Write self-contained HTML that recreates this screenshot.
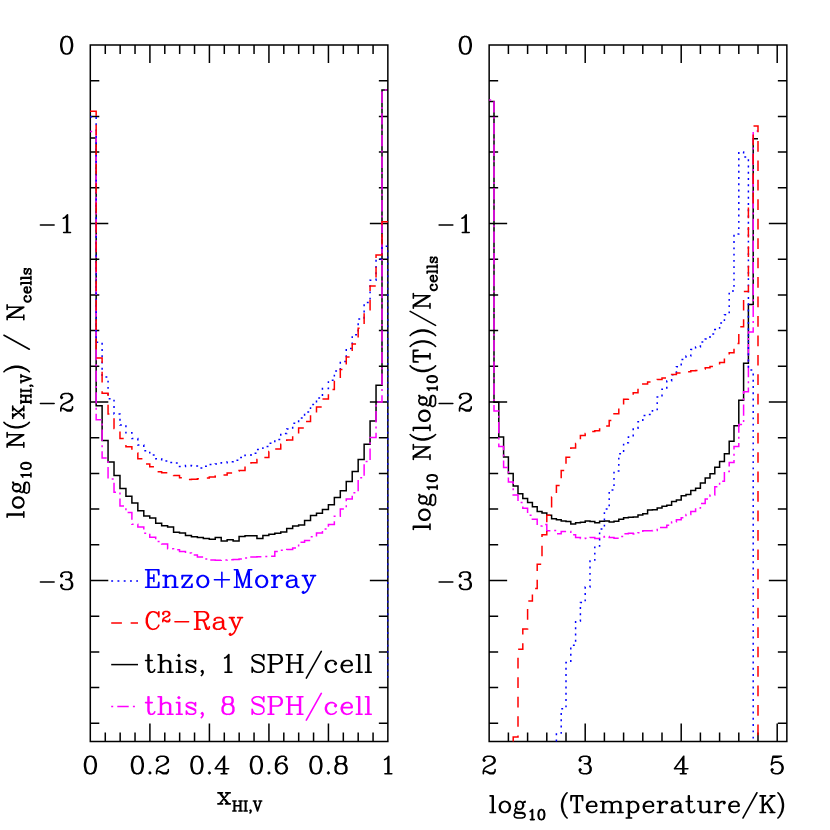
<!DOCTYPE html>
<html><head><meta charset="utf-8"><title>chart</title><style>html,body{margin:0;padding:0;background:#fff}svg{display:block}</style></head><body>
<svg width="830" height="830" viewBox="0 0 830 830">
<rect width="830" height="830" fill="#fff"/>
<defs><clipPath id="c1"><rect x="89.55" y="44.25" width="299.05" height="698"/></clipPath><clipPath id="c2"><rect x="488.4" y="44.25" width="299.2" height="698"/></clipPath></defs>
<path d="M90.3 45H387.85V741.5H90.3ZM105.28 45v9M105.28 741.5v-9M120.16 45v9M120.16 741.5v-9M135.03 45v9M135.03 741.5v-9M164.79 45v9M164.79 741.5v-9M179.66 45v9M179.66 741.5v-9M194.54 45v9M194.54 741.5v-9M224.3 45v9M224.3 741.5v-9M239.17 45v9M239.17 741.5v-9M254.05 45v9M254.05 741.5v-9M283.81 45v9M283.81 741.5v-9M298.68 45v9M298.68 741.5v-9M313.56 45v9M313.56 741.5v-9M343.32 45v9M343.32 741.5v-9M358.19 45v9M358.19 741.5v-9M373.07 45v9M373.07 741.5v-9M149.91 45v18M149.91 741.5v-18M209.42 45v18M209.42 741.5v-18M268.93 45v18M268.93 741.5v-18M328.44 45v18M328.44 741.5v-18M90.3 80.7h9M387.85 80.7h-9M90.3 116.4h9M387.85 116.4h-9M90.3 152.1h9M387.85 152.1h-9M90.3 187.8h9M387.85 187.8h-9M90.3 223.5h18M387.85 223.5h-18M90.3 259.2h9M387.85 259.2h-9M90.3 294.9h9M387.85 294.9h-9M90.3 330.6h9M387.85 330.6h-9M90.3 366.3h9M387.85 366.3h-9M90.3 402h18M387.85 402h-18M90.3 437.7h9M387.85 437.7h-9M90.3 473.4h9M387.85 473.4h-9M90.3 509.1h9M387.85 509.1h-9M90.3 544.8h9M387.85 544.8h-9M90.3 580.5h18M387.85 580.5h-18M90.3 616.2h9M387.85 616.2h-9M90.3 651.9h9M387.85 651.9h-9M90.3 687.6h9M387.85 687.6h-9M90.3 723.3h9M387.85 723.3h-9" fill="none" stroke="#000" stroke-width="1.5" stroke-linecap="butt" stroke-linejoin="miter"/>
<path d="M489.15 45H786.85V741.5H489.15ZM508.4 45v9M508.4 741.5v-9M527.6 45v9M527.6 741.5v-9M546.8 45v9M546.8 741.5v-9M566 45v9M566 741.5v-9M604.4 45v9M604.4 741.5v-9M623.6 45v9M623.6 741.5v-9M642.8 45v9M642.8 741.5v-9M662 45v9M662 741.5v-9M700.4 45v9M700.4 741.5v-9M719.6 45v9M719.6 741.5v-9M738.8 45v9M738.8 741.5v-9M758 45v9M758 741.5v-9M585.2 45v18M585.2 741.5v-18M681.2 45v18M681.2 741.5v-18M777.2 45v18M777.2 741.5v-18M489.15 80.7h9M786.85 80.7h-9M489.15 116.4h9M786.85 116.4h-9M489.15 152.1h9M786.85 152.1h-9M489.15 187.8h9M786.85 187.8h-9M489.15 223.5h18M786.85 223.5h-18M489.15 259.2h9M786.85 259.2h-9M489.15 294.9h9M786.85 294.9h-9M489.15 330.6h9M786.85 330.6h-9M489.15 366.3h9M786.85 366.3h-9M489.15 402h18M786.85 402h-18M489.15 437.7h9M786.85 437.7h-9M489.15 473.4h9M786.85 473.4h-9M489.15 509.1h9M786.85 509.1h-9M489.15 544.8h9M786.85 544.8h-9M489.15 580.5h18M786.85 580.5h-18M489.15 616.2h9M786.85 616.2h-9M489.15 651.9h9M786.85 651.9h-9M489.15 687.6h9M786.85 687.6h-9M489.15 723.3h9M786.85 723.3h-9" fill="none" stroke="#000" stroke-width="1.5" stroke-linecap="butt" stroke-linejoin="miter"/>
<path d="M90.2 138H96.16V405.7H102.11V440.4H108.06V462.1H114.02V475.4H119.98V488.4H125.93V496.3H131.89V503H137.84V510.8H143.8V516H149.75V518.1H155.71V523.2H161.66V525.7H167.62V527.1H173.57V532.2H179.53V533H185.48V535.6H191.44V536.7H197.39V537.6H203.34V538.6H209.3V539.2H215.26V537.6H221.21V540.9H227.16V539.8H233.12V540.9H239.08V536.6H245.03V535.7H250.99V535.7H256.94V538.6H262.89V535.4H268.85V534.3H274.81V533.2H280.76V532H286.71V528.4H292.67V526H298.62V525H304.58V520.5H310.53V515.5H316.49V513.3H322.44V509.5H328.4V504.8H334.35V497.4H340.31V490.8H346.26V481.4H352.22V471.5H358.17V459.6H364.13V444.2H370.08V421H376.04V385.3H382V90.1H387.95" fill="none" stroke="#000" stroke-width="1.5" clip-path="url(#c1)"/>
<path d="M90.2 131.6H96.16V419.8H102.11V458.1H108.06V479H114.02V492.2H119.98V505.9H125.93V512.6H131.89V524.2H137.84V527.1H143.8V533.3H149.75V537.2H155.71V541.6H161.66V544H167.62V548.8H173.57V549.8H179.53V551.5H185.48V553H191.44V555H197.39V557H203.34V559H209.3V560.1H215.26V560.3H221.21V560H227.16V559.7H233.12V559.4H239.08V559H245.03V558H250.99V557H256.94V556.8H262.89V556.5H268.85V556.2H274.81V551.5H280.76V550.3H286.71V549.6H292.67V548H298.62V542.2H304.58V540.5H310.53V536.8H316.49V532.9H322.44V529H328.4V524.6H334.35V516.3H340.31V509.1H346.26V499H352.22V492.7H358.17V477.8H364.13V461.5H370.08V437.6H376.04V402H382V90.1H387.95" fill="none" stroke="#ff00ff" stroke-width="1.5" stroke-dasharray="2 4.1 11.4 4.2" clip-path="url(#c1)"/>
<path d="M90.2 116.8H96.16V342.3H102.11V377H108.06V398.8H114.02V414H119.98V425.1H125.93V432.8H131.89V438.6H137.84V445.1H143.8V450.8H149.75V454.9H155.71V458.8H161.66V461H167.62V462.4H173.57V463.1H179.53V466.4H185.48V465.5H191.44V466H197.39V468H203.34V466.3H209.3V464.6H215.26V463.9H221.21V462.8H227.16V461.7H233.12V460.2H239.08V457.6H245.03V455.2H250.99V453.3H256.94V449.4H262.89V446.5H268.85V443.2H274.81V439.5H280.76V433.5H286.71V429H292.67V423.2H298.62V418.1H304.58V412.1H310.53V404.5H316.49V398H322.44V388.5H328.4V380.2H334.35V371.1H340.31V361.4H346.26V348.4H352.22V334.7H358.17V319.1H364.13V302.6H370.08V280.2H376.04V259H382V246.3H387.95V680" fill="none" stroke="#0000ff" stroke-width="1.5" stroke-dasharray="1.9 4.36" clip-path="url(#c1)"/>
<path d="M90.2 111.3H96.16V357.9H102.11V393.3H108.06V414H114.02V428.4H119.98V438.6H125.93V446.8H131.89V453H137.84V458.8H143.8V463.9H149.75V466.7H155.71V471.8H161.66V472.8H167.62V474H173.57V475.4H179.53V477.7H185.48V479.4H191.44V479.2H197.39V478.7H203.34V477.9H209.3V476.9H215.26V476.1H221.21V475.1H227.16V473H233.12V470.9H239.08V470.4H245.03V466H250.99V462.8H256.94V459.5H262.89V457.6H268.85V451.6H274.81V449H280.76V444.3H286.71V440H292.67V433.7H298.62V428H304.58V421.5H310.53V414H316.49V407H322.44V399H328.4V389.6H334.35V380.2H340.31V369.4H346.26V357.1H352.22V344.1H358.17V328.2H364.13V309.8H370.08V286H376.04V254.9H382V221.7H387.95" fill="none" stroke="#ff0000" stroke-width="1.5" stroke-dasharray="10.7 8.75" clip-path="url(#c1)"/>
<path d="M489.2 101.5H494V402.3H498.8V437H503.6V457.1H508.4V473.5H513.2V486H518V493.8H522.8V498.6H527.6V502.5H532.4V506.8H537.2V511.6H542V513H546.8V515.2H551.6V518.8H556.4V519.8H561.2V521H566V521.4H570.8V523.9H575.6V522.7H580.4V522.2H585.2V521.1H590V521.4H594.8V522.7H599.6V521.2H604.4V521H609.2V522H614V521.2H618.8V519.2H623.6V517.8H628.4V517.3H633.2V516.9H638V514.9H642.8V513.7H647.6V510.1H652.4V509.7H657.2V507.9H662V506.2H666.8V505.3H671.6V501.4H676.4V500H681.2V495.7H686V494.4H690.8V490.4H695.6V488.2H700.4V483.1H705.2V478.1H710V473.7H714.8V467.2H719.6V461.4H724.4V453.8H729.2V441.2H734V425.7H738.8V400.3H743.6V363.3H748.4V304.4H753.2V138.7H758" fill="none" stroke="#000" stroke-width="1.5" clip-path="url(#c2)"/>
<path d="M489.2 99.9H494V411H498.8V446.6H503.6V467.5H508.4V481.9H513.2V494.9H518V502.5H522.8V508.2H527.6V515.2H532.4V519.2H537.2V526H542V524.6H546.8V530.8H551.6V530.4H556.4V533.7H561.2V531.4H566V531.4H570.8V534.7H575.6V537.6H580.4V538.6H585.2V538.3H590V537.6H594.8V538.4H599.6V537H604.4V536.6H609.2V537.6H614V538.3H618.8V536.6H623.6V533.7H628.4V533.2H633.2V534H638V532.8H642.8V530.8H647.6V530.8H652.4V530.4H657.2V527.5H662V527.5H666.8V525.3H671.6V522.1H676.4V519.8H681.2V517.8H686V514.4H690.8V511.4H695.6V508H700.4V503.4H705.2V499H710V495.1H714.8V486.7H719.6V481.2H724.4V471.6H729.2V462.5H734V446.6H738.8V424.6H743.6V391.8H748.4V332H753.2V131.1H758" fill="none" stroke="#ff00ff" stroke-width="1.5" stroke-dasharray="2 4.1 11.4 4.2" clip-path="url(#c2)"/>
<path d="M556.4 741.5V734.1H561.2V708.8H566V662.5H570.8V645.3H575.6V621H580.4V602.5H585.2V587H590V561H594.8V546H599.6V529H604.4V509.1H609.2V489.9H614V471H618.8V453.7H623.6V442.8H628.4V436.9H633.2V428.2H638V421.7H642.8V415.5H647.6V414.5H652.4V410.8H657.2V397.1H662V389.2H666.8V380.9H671.6V374.7H676.4V366.7H681.2V359.5H686V356.1H690.8V349.6H695.6V347H700.4V341.9H705.2V339H710V334H714.8V329.6H719.6V323.1H724.4V314.7H729.2V291.1H734V234H738.8V152H743.6V157.1H748.4V370.1H753.2V741.5" fill="none" stroke="#0000ff" stroke-width="1.5" stroke-dasharray="1.9 4.36" clip-path="url(#c2)"/>
<path d="M513.2 741.5V737H518V649.2H522.8V628.9H527.6V601H532.4V588.4H537.2V564.3H542V534.7H546.8V515.2H551.6V497.1H556.4V485.5H561.2V470.6H566V457.3H570.8V448H575.6V443.4H580.4V435.4H585.2V433.5H590V431.5H594.8V430.8H599.6V429H604.4V426H609.2V420.5H614V413.7H618.8V405H623.6V399.3H628.4V396.4H633.2V392.8H638V388.5H642.8V384.1H647.6V381.9H652.4V380.5H657.2V379.5H662V377.9H666.8V376H671.6V374.4H676.4V373H681.2V372.3H686V371.8H690.8V370.8H695.6V370.5H700.4V369.1H705.2V367.7H710V366.5H714.8V364.8H719.6V362.5H724.4V357.8H729.2V352.8H734V343.4H738.8V326.7H743.6V291.4H748.4V206H753.2V126H758V741.5" fill="none" stroke="#ff0000" stroke-width="1.5" stroke-dasharray="10.7 8.75" clip-path="url(#c2)"/>
<path d="M111.2 581.1H138" fill="none" stroke="#0000ff" stroke-width="1.5" stroke-dasharray="1.9 4.36"/>
<path d="M111.2 623.06H138" fill="none" stroke="#ff0000" stroke-width="1.5" stroke-dasharray="10.7 8.75"/>
<path d="M111.2 664.6H138" fill="none" stroke="#000" stroke-width="1.5"/>
<path d="M111.2 706.45H138" fill="none" stroke="#ff00ff" stroke-width="1.5" stroke-dasharray="2 4.1 11.4 4.2"/>
<path d="M148.05 569.79L148.05 587.3M148.88 569.79L148.88 587.3M153.85 574.79L153.85 581.46M145.56 569.79L158.83 569.79L158.83 574.79L158 569.79M148.88 578.13L153.85 578.13M145.56 587.3L158.83 587.3L158.83 582.3L158 587.3M165.47 575.62L165.47 587.3M166.3 575.62L166.3 587.3M166.3 578.13L167.96 576.46L170.44 575.62L172.1 575.62L174.59 576.46L175.42 578.13L175.42 587.3M172.1 575.62L173.76 576.46L174.59 578.13L174.59 587.3M162.98 575.62L166.3 575.62M162.98 587.3L168.78 587.3M172.1 587.3L177.91 587.3M191.18 575.62L182.06 587.3M192.01 575.62L182.89 587.3M182.89 575.62L182.06 578.96L182.06 575.62L192.01 575.62M182.06 587.3L192.01 587.3L192.01 583.96L191.18 587.3M201.97 575.62L199.48 576.46L197.82 578.13L196.99 580.63L196.99 582.3L197.82 584.8L199.48 586.47L201.97 587.3L203.62 587.3L206.11 586.47L207.77 584.8L208.6 582.3L208.6 580.63L207.77 578.13L206.11 576.46L203.62 575.62L201.97 575.62M201.97 575.62L200.31 576.46L198.65 578.13L197.82 580.63L197.82 582.3L198.65 584.8L200.31 586.47L201.97 587.3M203.62 587.3L205.28 586.47L206.94 584.8L207.77 582.3L207.77 580.63L206.94 578.13L205.28 576.46L203.62 575.62M221.87 572.29L221.87 587.3M214.41 579.79L229.34 579.79M236.8 569.79L236.8 587.3M237.63 569.79L242.61 584.8M236.8 569.79L242.61 587.3M248.42 569.79L242.61 587.3M248.42 569.79L248.42 587.3M249.25 569.79L249.25 587.3M234.32 569.79L237.63 569.79M248.42 569.79L251.74 569.79M234.32 587.3L239.29 587.3M245.93 587.3L251.74 587.3M260.86 575.62L258.37 576.46L256.71 578.13L255.88 580.63L255.88 582.3L256.71 584.8L258.37 586.47L260.86 587.3L262.52 587.3L265.01 586.47L266.67 584.8L267.5 582.3L267.5 580.63L266.67 578.13L265.01 576.46L262.52 575.62L260.86 575.62M260.86 575.62L259.2 576.46L257.54 578.13L256.71 580.63L256.71 582.3L257.54 584.8L259.2 586.47L260.86 587.3M262.52 587.3L264.18 586.47L265.84 584.8L266.67 582.3L266.67 580.63L265.84 578.13L264.18 576.46L262.52 575.62M274.13 575.62L274.13 587.3M274.96 575.62L274.96 587.3M274.96 580.63L275.79 578.13L277.45 576.46L279.11 575.62L281.6 575.62L282.43 576.46L282.43 577.29L281.6 578.13L280.77 577.29L281.6 576.46M271.64 575.62L274.96 575.62M271.64 587.3L277.45 587.3M288.23 577.29L288.23 578.13L287.4 578.13L287.4 577.29L288.23 576.46L289.89 575.62L293.21 575.62L294.87 576.46L295.7 577.29L296.53 578.96L296.53 584.8L297.36 586.47L298.19 587.3M295.7 577.29L295.7 584.8L296.53 586.47L298.19 587.3L299.02 587.3M295.7 578.96L294.87 579.79L289.89 580.63L287.4 581.46L286.57 583.13L286.57 584.8L287.4 586.47L289.89 587.3L292.38 587.3L294.04 586.47L295.7 584.8M289.89 580.63L288.23 581.46L287.4 583.13L287.4 584.8L288.23 586.47L289.89 587.3M303.99 575.62L308.97 587.3M304.82 575.62L308.97 585.63M313.95 575.62L308.97 587.3L307.31 590.64L305.65 592.3L303.99 593.14L303.16 593.14L302.33 592.3L303.16 591.47L303.99 592.3M302.33 575.62L307.31 575.62M310.63 575.62L315.61 575.62" fill="none" stroke="#0000ff" stroke-width="1.6" stroke-linecap="round" stroke-linejoin="round"/>
<path d="M158.02 614.29L158.85 616.79L158.85 611.79L158.02 614.29L156.36 612.62L153.87 611.79L152.21 611.79L149.71 612.62L148.05 614.29L147.22 615.96L146.39 618.46L146.39 622.63L147.22 625.13L148.05 626.8L149.71 628.47L152.21 629.3L153.87 629.3L156.36 628.47L158.02 626.8L158.85 625.13M152.21 611.79L150.54 612.62L148.88 614.29L148.05 615.96L147.22 618.46L147.22 622.63L148.05 625.13L148.88 626.8L150.54 628.47L152.21 629.3M163.3 613.43L163.79 613.92L163.3 614.41L162.81 613.92L162.81 613.43L163.3 612.44L163.79 611.95L165.26 611.46L167.22 611.46L168.69 611.95L169.18 612.44L169.67 613.43L169.67 614.41L169.18 615.4L167.71 616.38L165.26 617.37L164.28 617.86L163.3 618.84L162.81 620.32L162.81 621.79M167.22 611.46L168.2 611.95L168.69 612.44L169.18 613.43L169.18 614.41L168.69 615.4L167.22 616.38L165.26 617.37M162.81 620.81L163.3 620.32L164.28 620.32L166.73 621.3L168.2 621.3L169.18 620.81L169.67 620.32M164.28 620.32L166.73 621.79L168.69 621.79L169.18 621.3L169.67 620.32L169.67 619.33M174.96 621.79L188.58 621.79M196.89 611.79L196.89 629.3M197.72 611.79L197.72 629.3M194.39 611.79L204.36 611.79L206.85 612.62L207.68 613.45L208.51 615.12L208.51 616.79L207.68 618.46L206.85 619.29L204.36 620.13L197.72 620.13M204.36 611.79L206.02 612.62L206.85 613.45L207.68 615.12L207.68 616.79L206.85 618.46L206.02 619.29L204.36 620.13M194.39 629.3L200.21 629.3M201.87 620.13L203.53 620.96L204.36 621.79L206.85 627.63L207.68 628.47L208.51 628.47L209.34 627.63M203.53 620.96L204.36 622.63L206.02 628.47L206.85 629.3L208.51 629.3L209.34 627.63L209.34 626.8M215.16 619.29L215.16 620.13L214.33 620.13L214.33 619.29L215.16 618.46L216.82 617.62L220.14 617.62L221.8 618.46L222.63 619.29L223.46 620.96L223.46 626.8L224.29 628.47L225.12 629.3M222.63 619.29L222.63 626.8L223.46 628.47L225.12 629.3L225.95 629.3M222.63 620.96L221.8 621.79L216.82 622.63L214.33 623.46L213.5 625.13L213.5 626.8L214.33 628.47L216.82 629.3L219.31 629.3L220.97 628.47L222.63 626.8M216.82 622.63L215.16 623.46L214.33 625.13L214.33 626.8L215.16 628.47L216.82 629.3M230.94 617.62L235.92 629.3M231.77 617.62L235.92 627.63M240.9 617.62L235.92 629.3L234.26 632.64L232.6 634.3L230.94 635.14L230.11 635.14L229.28 634.3L230.11 633.47L230.94 634.3M229.28 617.62L234.26 617.62M237.58 617.62L242.56 617.62" fill="none" stroke="#ff0000" stroke-width="1.6" stroke-linecap="round" stroke-linejoin="round"/>
<path d="M148.06 654.69L148.06 668.86L148.9 671.37L150.56 672.2L152.23 672.2L153.89 671.37L154.73 669.7M148.9 654.69L148.9 668.86L149.73 671.37L150.56 672.2M145.57 660.52L152.23 660.52M160.56 654.69L160.56 672.2M161.39 654.69L161.39 672.2M161.39 663.03L163.05 661.36L165.55 660.52L167.22 660.52L169.72 661.36L170.55 663.03L170.55 672.2M167.22 660.52L168.88 661.36L169.72 663.03L169.72 672.2M158.06 654.69L161.39 654.69M158.06 672.2L163.89 672.2M167.22 672.2L173.05 672.2M178.88 654.69L178.04 655.52L178.88 656.35L179.71 655.52L178.88 654.69M178.88 660.52L178.88 672.2M179.71 660.52L179.71 672.2M176.38 660.52L179.71 660.52M176.38 672.2L182.21 672.2M194.7 662.19L195.53 660.52L195.53 663.86L194.7 662.19L193.87 661.36L192.2 660.52L188.87 660.52L187.21 661.36L186.37 662.19L186.37 663.86L187.21 664.69L188.87 665.53L193.04 667.2L194.7 668.03L195.53 668.86M186.37 663.03L187.21 663.86L188.87 664.69L193.04 666.36L194.7 667.2L195.53 668.03L195.53 670.53L194.7 671.37L193.04 672.2L189.7 672.2L188.04 671.37L187.21 670.53L186.37 668.86L186.37 672.2L187.21 670.53M202.2 672.2L201.36 671.37L202.2 670.53L203.03 671.37L203.03 673.03L202.2 674.7L201.36 675.54M224.68 658.02L226.35 657.19L228.85 654.69L228.85 672.2M228.01 655.52L228.01 672.2M225.01 672.2L231.84 672.2M262.99 657.19L263.82 654.69L263.82 659.69L262.99 657.19L261.32 655.52L258.83 654.69L256.33 654.69L253.83 655.52L252.16 657.19L252.16 658.86L253 660.52L253.83 661.36L255.5 662.19L260.49 663.86L262.16 664.69L263.82 666.36M252.16 658.86L253.83 660.52L255.5 661.36L260.49 663.03L262.16 663.86L262.99 664.69L263.82 666.36L263.82 669.7L262.16 671.37L259.66 672.2L257.16 672.2L254.66 671.37L253 669.7L252.16 667.2L252.16 672.2L253 669.7M270.49 654.69L270.49 672.2M271.32 654.69L271.32 672.2M267.99 654.69L277.98 654.69L280.48 655.52L281.31 656.35L282.14 658.02L282.14 660.52L281.31 662.19L280.48 663.03L277.98 663.86L271.32 663.86M277.98 654.69L279.65 655.52L280.48 656.35L281.31 658.02L281.31 660.52L280.48 662.19L279.65 663.03L277.98 663.86M267.99 672.2L273.82 672.2M288.81 654.69L288.81 672.2M289.64 654.69L289.64 672.2M299.63 654.69L299.63 672.2M300.47 654.69L300.47 672.2M286.31 654.69L292.14 654.69M297.14 654.69L302.96 654.69M289.64 663.03L299.63 663.03M286.31 672.2L292.14 672.2M297.14 672.2L302.96 672.2M321.29 651.35L306.3 678.04M335.44 663.03L334.61 663.86L335.44 664.69L336.28 663.86L336.28 663.03L334.61 661.36L332.95 660.52L330.45 660.52L327.95 661.36L326.28 663.03L325.45 665.53L325.45 667.2L326.28 669.7L327.95 671.37L330.45 672.2L332.11 672.2L334.61 671.37L336.28 669.7M330.45 660.52L328.78 661.36L327.12 663.03L326.28 665.53L326.28 667.2L327.12 669.7L328.78 671.37L330.45 672.2M342.11 665.53L352.1 665.53L352.1 663.86L351.27 662.19L350.43 661.36L348.77 660.52L346.27 660.52L343.77 661.36L342.11 663.03L341.27 665.53L341.27 667.2L342.11 669.7L343.77 671.37L346.27 672.2L347.94 672.2L350.43 671.37L352.1 669.7M351.27 665.53L351.27 663.03L350.43 661.36M346.27 660.52L344.6 661.36L342.94 663.03L342.11 665.53L342.11 667.2L342.94 669.7L344.6 671.37L346.27 672.2M358.76 654.69L358.76 672.2M359.6 654.69L359.6 672.2M356.26 654.69L359.6 654.69M356.26 672.2L362.09 672.2M367.92 654.69L367.92 672.2M368.76 654.69L368.76 672.2M365.42 654.69L368.76 654.69M365.42 672.2L371.25 672.2" fill="none" stroke="#000" stroke-width="1.6" stroke-linecap="round" stroke-linejoin="round"/>
<path d="M148.06 696.79L148.06 710.96L148.9 713.47L150.56 714.3L152.23 714.3L153.89 713.47L154.73 711.8M148.9 696.79L148.9 710.96L149.73 713.47L150.56 714.3M145.57 702.62L152.23 702.62M160.56 696.79L160.56 714.3M161.39 696.79L161.39 714.3M161.39 705.13L163.05 703.46L165.55 702.62L167.22 702.62L169.72 703.46L170.55 705.13L170.55 714.3M167.22 702.62L168.88 703.46L169.72 705.13L169.72 714.3M158.06 696.79L161.39 696.79M158.06 714.3L163.89 714.3M167.22 714.3L173.05 714.3M178.88 696.79L178.04 697.62L178.88 698.45L179.71 697.62L178.88 696.79M178.88 702.62L178.88 714.3M179.71 702.62L179.71 714.3M176.38 702.62L179.71 702.62M176.38 714.3L182.21 714.3M194.7 704.29L195.53 702.62L195.53 705.96L194.7 704.29L193.87 703.46L192.2 702.62L188.87 702.62L187.21 703.46L186.37 704.29L186.37 705.96L187.21 706.79L188.87 707.63L193.04 709.3L194.7 710.13L195.53 710.96M186.37 705.13L187.21 705.96L188.87 706.79L193.04 708.46L194.7 709.3L195.53 710.13L195.53 712.63L194.7 713.47L193.04 714.3L189.7 714.3L188.04 713.47L187.21 712.63L186.37 710.96L186.37 714.3L187.21 712.63M202.2 714.3L201.36 713.47L202.2 712.63L203.03 713.47L203.03 715.13L202.2 716.8L201.36 717.64M226.35 696.79L223.85 697.62L223.02 699.29L223.02 701.79L223.85 703.46L226.35 704.29L229.68 704.29L232.18 703.46L233.01 701.79L233.01 699.29L232.18 697.62L229.68 696.79L226.35 696.79M226.35 696.79L224.68 697.62L223.85 699.29L223.85 701.79L224.68 703.46L226.35 704.29M229.68 704.29L231.34 703.46L232.18 701.79L232.18 699.29L231.34 697.62L229.68 696.79M226.35 704.29L223.85 705.13L223.02 705.96L222.18 707.63L222.18 710.96L223.02 712.63L223.85 713.47L226.35 714.3L229.68 714.3L232.18 713.47L233.01 712.63L233.84 710.96L233.84 707.63L233.01 705.96L232.18 705.13L229.68 704.29M226.35 704.29L224.68 705.13L223.85 705.96L223.02 707.63L223.02 710.96L223.85 712.63L224.68 713.47L226.35 714.3M229.68 714.3L231.34 713.47L232.18 712.63L233.01 710.96L233.01 707.63L232.18 705.96L231.34 705.13L229.68 704.29M262.99 699.29L263.82 696.79L263.82 701.79L262.99 699.29L261.32 697.62L258.83 696.79L256.33 696.79L253.83 697.62L252.16 699.29L252.16 700.96L253 702.62L253.83 703.46L255.5 704.29L260.49 705.96L262.16 706.79L263.82 708.46M252.16 700.96L253.83 702.62L255.5 703.46L260.49 705.13L262.16 705.96L262.99 706.79L263.82 708.46L263.82 711.8L262.16 713.47L259.66 714.3L257.16 714.3L254.66 713.47L253 711.8L252.16 709.3L252.16 714.3L253 711.8M270.49 696.79L270.49 714.3M271.32 696.79L271.32 714.3M267.99 696.79L277.98 696.79L280.48 697.62L281.31 698.45L282.14 700.12L282.14 702.62L281.31 704.29L280.48 705.13L277.98 705.96L271.32 705.96M277.98 696.79L279.65 697.62L280.48 698.45L281.31 700.12L281.31 702.62L280.48 704.29L279.65 705.13L277.98 705.96M267.99 714.3L273.82 714.3M288.81 696.79L288.81 714.3M289.64 696.79L289.64 714.3M299.63 696.79L299.63 714.3M300.47 696.79L300.47 714.3M286.31 696.79L292.14 696.79M297.14 696.79L302.96 696.79M289.64 705.13L299.63 705.13M286.31 714.3L292.14 714.3M297.14 714.3L302.96 714.3M321.29 693.45L306.3 720.14M335.44 705.13L334.61 705.96L335.44 706.79L336.28 705.96L336.28 705.13L334.61 703.46L332.95 702.62L330.45 702.62L327.95 703.46L326.28 705.13L325.45 707.63L325.45 709.3L326.28 711.8L327.95 713.47L330.45 714.3L332.11 714.3L334.61 713.47L336.28 711.8M330.45 702.62L328.78 703.46L327.12 705.13L326.28 707.63L326.28 709.3L327.12 711.8L328.78 713.47L330.45 714.3M342.11 707.63L352.1 707.63L352.1 705.96L351.27 704.29L350.43 703.46L348.77 702.62L346.27 702.62L343.77 703.46L342.11 705.13L341.27 707.63L341.27 709.3L342.11 711.8L343.77 713.47L346.27 714.3L347.94 714.3L350.43 713.47L352.1 711.8M351.27 707.63L351.27 705.13L350.43 703.46M346.27 702.62L344.6 703.46L342.94 705.13L342.11 707.63L342.11 709.3L342.94 711.8L344.6 713.47L346.27 714.3M358.76 696.79L358.76 714.3M359.6 696.79L359.6 714.3M356.26 696.79L359.6 696.79M356.26 714.3L362.09 714.3M367.92 696.79L367.92 714.3M368.76 696.79L368.76 714.3M365.42 696.79L368.76 696.79M365.42 714.3L371.25 714.3" fill="none" stroke="#ff00ff" stroke-width="1.6" stroke-linecap="round" stroke-linejoin="round"/>
<path d="M65.81 36.43L63.31 37.27L61.64 39.77L60.8 43.95L60.8 46.45L61.64 50.63L63.31 53.13L65.81 53.97L67.48 53.97L69.99 53.13L71.66 50.63L72.5 46.45L72.5 43.95L71.66 39.77L69.99 37.27L67.48 36.43L65.81 36.43M65.81 36.43L64.14 37.27L63.31 38.1L62.48 39.77L61.64 43.95L61.64 46.45L62.48 50.63L63.31 52.3L64.14 53.13L65.81 53.97M67.48 53.97L69.16 53.13L69.99 52.3L70.83 50.63L71.66 46.45L71.66 43.95L70.83 39.77L69.99 38.1L69.16 37.27L67.48 36.43" fill="none" stroke="#000" stroke-width="1.6" stroke-linecap="round" stroke-linejoin="round"/>
<path d="M464.51 36.43L462.01 37.27L460.34 39.77L459.5 43.95L459.5 46.45L460.34 50.63L462.01 53.13L464.51 53.97L466.19 53.97L468.69 53.13L470.36 50.63L471.19 46.45L471.19 43.95L470.36 39.77L468.69 37.27L466.19 36.43L464.51 36.43M464.51 36.43L462.84 37.27L462.01 38.1L461.18 39.77L460.34 43.95L460.34 46.45L461.18 50.63L462.01 52.3L462.84 53.13L464.51 53.97M466.19 53.97L467.86 53.13L468.69 52.3L469.52 50.63L470.36 46.45L470.36 43.95L469.52 39.77L468.69 38.1L467.86 37.27L466.19 36.43" fill="none" stroke="#000" stroke-width="1.6" stroke-linecap="round" stroke-linejoin="round"/>
<path d="M40.43 224.95L54.12 224.95M63.31 218.27L64.98 217.44L67.49 214.93L67.49 232.47M66.65 215.77L66.65 232.47M63.64 232.47L70.49 232.47" fill="none" stroke="#000" stroke-width="1.6" stroke-linecap="round" stroke-linejoin="round"/>
<path d="M439.13 224.95L452.82 224.95M462.01 218.27L463.68 217.44L466.19 214.93L466.19 232.47M465.35 215.77L465.35 232.47M462.34 232.47L469.19 232.47" fill="none" stroke="#000" stroke-width="1.6" stroke-linecap="round" stroke-linejoin="round"/>
<path d="M40.43 403.45L54.12 403.45M61.64 396.77L62.48 397.61L61.64 398.44L60.81 397.61L60.81 396.77L61.64 395.1L62.48 394.27L64.98 393.43L68.32 393.43L70.83 394.27L71.66 395.1L72.5 396.77L72.5 398.44L71.66 400.11L69.16 401.78L64.98 403.45L63.31 404.29L61.64 405.96L60.81 408.46L60.81 410.97M68.32 393.43L69.99 394.27L70.83 395.1L71.66 396.77L71.66 398.44L70.83 400.11L68.32 401.78L64.98 403.45M60.81 409.3L61.64 408.46L63.31 408.46L67.49 410.13L69.99 410.13L71.66 409.3L72.5 408.46M63.31 408.46L67.49 410.97L70.83 410.97L71.66 410.13L72.5 408.46L72.5 406.79" fill="none" stroke="#000" stroke-width="1.6" stroke-linecap="round" stroke-linejoin="round"/>
<path d="M439.13 403.45L452.82 403.45M460.34 396.77L461.18 397.61L460.34 398.44L459.5 397.61L459.5 396.77L460.34 395.1L461.18 394.27L463.68 393.43L467.02 393.43L469.52 394.27L470.36 395.1L471.19 396.77L471.19 398.44L470.36 400.11L467.86 401.78L463.68 403.45L462.01 404.29L460.34 405.96L459.5 408.46L459.5 410.97M467.02 393.43L468.69 394.27L469.52 395.1L470.36 396.77L470.36 398.44L469.52 400.11L467.02 401.78L463.68 403.45M459.5 409.3L460.34 408.46L462.01 408.46L466.19 410.13L468.69 410.13L470.36 409.3L471.19 408.46M462.01 408.46L466.19 410.97L469.52 410.97L470.36 410.13L471.19 408.46L471.19 406.79" fill="none" stroke="#000" stroke-width="1.6" stroke-linecap="round" stroke-linejoin="round"/>
<path d="M40.43 581.95L54.12 581.95M61.64 575.27L62.48 576.11L61.64 576.94L60.81 576.11L60.81 575.27L61.64 573.6L62.48 572.77L64.98 571.93L68.32 571.93L70.83 572.77L71.66 574.44L71.66 576.94L70.83 578.61L68.32 579.45L65.81 579.45M68.32 571.93L69.99 572.77L70.83 574.44L70.83 576.94L69.99 578.61L68.32 579.45M68.32 579.45L69.99 580.28L71.66 581.95L72.5 583.62L72.5 586.13L71.66 587.8L70.83 588.63L68.32 589.47L64.98 589.47L62.48 588.63L61.64 587.8L60.81 586.13L60.81 585.29L61.64 584.46L62.48 585.29L61.64 586.13M70.83 581.12L71.66 583.62L71.66 586.13L70.83 587.8L69.99 588.63L68.32 589.47" fill="none" stroke="#000" stroke-width="1.6" stroke-linecap="round" stroke-linejoin="round"/>
<path d="M439.13 581.95L452.82 581.95M460.34 575.27L461.18 576.11L460.34 576.94L459.5 576.11L459.5 575.27L460.34 573.6L461.18 572.77L463.68 571.93L467.02 571.93L469.52 572.77L470.36 574.44L470.36 576.94L469.52 578.61L467.02 579.45L464.51 579.45M467.02 571.93L468.69 572.77L469.52 574.44L469.52 576.94L468.69 578.61L467.02 579.45M467.02 579.45L468.69 580.28L470.36 581.95L471.19 583.62L471.19 586.13L470.36 587.8L469.52 588.63L467.02 589.47L463.68 589.47L461.18 588.63L460.34 587.8L459.5 586.13L459.5 585.29L460.34 584.46L461.18 585.29L460.34 586.13M469.52 581.12L470.36 583.62L470.36 586.13L469.52 587.8L468.69 588.63L467.02 589.47" fill="none" stroke="#000" stroke-width="1.6" stroke-linecap="round" stroke-linejoin="round"/>
<path d="M89.57 756.26L87.06 757.1L85.39 759.6L84.56 763.78L84.56 766.28L85.39 770.46L87.06 772.96L89.57 773.8L91.23 773.8L93.74 772.96L95.41 770.46L96.25 766.28L96.25 763.78L95.41 759.6L93.74 757.1L91.23 756.26L89.57 756.26M89.57 756.26L87.9 757.1L87.06 757.93L86.23 759.6L85.39 763.78L85.39 766.28L86.23 770.46L87.06 772.13L87.9 772.96L89.57 773.8M91.23 773.8L92.91 772.96L93.74 772.13L94.58 770.46L95.41 766.28L95.41 763.78L94.58 759.6L93.74 757.93L92.91 757.1L91.23 756.26" fill="none" stroke="#000" stroke-width="1.6" stroke-linecap="round" stroke-linejoin="round"/>
<path d="M136.55 756.26L134.04 757.1L132.38 759.6L131.54 763.78L131.54 766.28L132.38 770.46L134.04 772.96L136.55 773.8L138.22 773.8L140.72 772.96L142.39 770.46L143.23 766.28L143.23 763.78L142.39 759.6L140.72 757.1L138.22 756.26L136.55 756.26M136.55 756.26L134.88 757.1L134.04 757.93L133.21 759.6L132.38 763.78L132.38 766.28L133.21 770.46L134.04 772.13L134.88 772.96L136.55 773.8M138.22 773.8L139.89 772.96L140.72 772.13L141.56 770.46L142.39 766.28L142.39 763.78L141.56 759.6L140.72 757.93L139.89 757.1L138.22 756.26M149.91 772.13L149.07 772.96L149.91 773.8L150.75 772.96L149.91 772.13M157.43 759.6L158.26 760.44L157.43 761.27L156.59 760.44L156.59 759.6L157.43 757.93L158.26 757.1L160.76 756.26L164.1 756.26L166.61 757.1L167.44 757.93L168.28 759.6L168.28 761.27L167.44 762.94L164.94 764.62L160.76 766.28L159.09 767.12L157.43 768.79L156.59 771.29L156.59 773.8M164.1 756.26L165.77 757.1L166.61 757.93L167.44 759.6L167.44 761.27L166.61 762.94L164.1 764.62L160.76 766.28M156.59 772.13L157.43 771.29L159.09 771.29L163.27 772.96L165.77 772.96L167.44 772.13L168.28 771.29M159.09 771.29L163.27 773.8L166.61 773.8L167.44 772.96L168.28 771.29L168.28 769.62" fill="none" stroke="#000" stroke-width="1.6" stroke-linecap="round" stroke-linejoin="round"/>
<path d="M196.06 756.26L193.55 757.1L191.88 759.6L191.05 763.78L191.05 766.28L191.88 770.46L193.55 772.96L196.06 773.8L197.73 773.8L200.23 772.96L201.9 770.46L202.74 766.28L202.74 763.78L201.9 759.6L200.23 757.1L197.73 756.26L196.06 756.26M196.06 756.26L194.39 757.1L193.55 757.93L192.72 759.6L191.88 763.78L191.88 766.28L192.72 770.46L193.55 772.13L194.39 772.96L196.06 773.8M197.73 773.8L199.4 772.96L200.23 772.13L201.07 770.46L201.9 766.28L201.9 763.78L201.07 759.6L200.23 757.93L199.4 757.1L197.73 756.26M209.42 772.13L208.58 772.96L209.42 773.8L210.25 772.96L209.42 772.13M223.61 757.93L223.61 773.8M224.45 756.26L224.45 773.8M224.45 756.26L215.26 768.79L228.62 768.79M221.11 773.8L226.95 773.8" fill="none" stroke="#000" stroke-width="1.6" stroke-linecap="round" stroke-linejoin="round"/>
<path d="M255.57 756.26L253.06 757.1L251.39 759.6L250.56 763.78L250.56 766.28L251.39 770.46L253.06 772.96L255.57 773.8L257.24 773.8L259.74 772.96L261.41 770.46L262.25 766.28L262.25 763.78L261.41 759.6L259.74 757.1L257.24 756.26L255.57 756.26M255.57 756.26L253.9 757.1L253.06 757.93L252.23 759.6L251.39 763.78L251.39 766.28L252.23 770.46L253.06 772.13L253.9 772.96L255.57 773.8M257.24 773.8L258.91 772.96L259.74 772.13L260.58 770.46L261.41 766.28L261.41 763.78L260.58 759.6L259.74 757.93L258.91 757.1L257.24 756.26M268.93 772.13L268.09 772.96L268.93 773.8L269.76 772.96L268.93 772.13M285.63 758.77L284.79 759.6L285.63 760.44L286.46 759.6L286.46 758.77L285.63 757.1L283.96 756.26L281.45 756.26L278.95 757.1L277.28 758.77L276.44 760.44L275.61 763.78L275.61 768.79L276.44 771.29L278.11 772.96L280.62 773.8L282.29 773.8L284.79 772.96L286.46 771.29L287.3 768.79L287.3 767.95L286.46 765.45L284.79 763.78L282.29 762.94L281.45 762.94L278.95 763.78L277.28 765.45L276.44 767.95M281.45 756.26L279.78 757.1L278.11 758.77L277.28 760.44L276.44 763.78L276.44 768.79L277.28 771.29L278.95 772.96L280.62 773.8M282.29 773.8L283.96 772.96L285.63 771.29L286.46 768.79L286.46 767.95L285.63 765.45L283.96 763.78L282.29 762.94" fill="none" stroke="#000" stroke-width="1.6" stroke-linecap="round" stroke-linejoin="round"/>
<path d="M315.08 756.26L312.57 757.1L310.9 759.6L310.07 763.78L310.07 766.28L310.9 770.46L312.57 772.96L315.08 773.8L316.75 773.8L319.25 772.96L320.92 770.46L321.76 766.28L321.76 763.78L320.92 759.6L319.25 757.1L316.75 756.26L315.08 756.26M315.08 756.26L313.41 757.1L312.57 757.93L311.74 759.6L310.9 763.78L310.9 766.28L311.74 770.46L312.57 772.13L313.41 772.96L315.08 773.8M316.75 773.8L318.42 772.96L319.25 772.13L320.09 770.46L320.92 766.28L320.92 763.78L320.09 759.6L319.25 757.93L318.42 757.1L316.75 756.26M328.44 772.13L327.6 772.96L328.44 773.8L329.27 772.96L328.44 772.13M339.29 756.26L336.79 757.1L335.95 758.77L335.95 761.27L336.79 762.94L339.29 763.78L342.63 763.78L345.14 762.94L345.97 761.27L345.97 758.77L345.14 757.1L342.63 756.26L339.29 756.26M339.29 756.26L337.62 757.1L336.79 758.77L336.79 761.27L337.62 762.94L339.29 763.78M342.63 763.78L344.3 762.94L345.14 761.27L345.14 758.77L344.3 757.1L342.63 756.26M339.29 763.78L336.79 764.62L335.95 765.45L335.12 767.12L335.12 770.46L335.95 772.13L336.79 772.96L339.29 773.8L342.63 773.8L345.14 772.96L345.97 772.13L346.81 770.46L346.81 767.12L345.97 765.45L345.14 764.62L342.63 763.78M339.29 763.78L337.62 764.62L336.79 765.45L335.95 767.12L335.95 770.46L336.79 772.13L337.62 772.96L339.29 773.8M342.63 773.8L344.3 772.96L345.14 772.13L345.97 770.46L345.97 767.12L345.14 765.45L344.3 764.62L342.63 763.78" fill="none" stroke="#000" stroke-width="1.6" stroke-linecap="round" stroke-linejoin="round"/>
<path d="M384.61 759.6L386.28 758.77L388.78 756.26L388.78 773.8M387.95 757.1L387.95 773.8M384.94 773.8L391.79 773.8" fill="none" stroke="#000" stroke-width="1.6" stroke-linecap="round" stroke-linejoin="round"/>
<path d="M484.19 759.6L485.02 760.44L484.19 761.27L483.35 760.44L483.35 759.6L484.19 757.93L485.02 757.1L487.53 756.26L490.87 756.26L493.38 757.1L494.21 757.93L495.05 759.6L495.05 761.27L494.21 762.94L491.7 764.62L487.53 766.28L485.86 767.12L484.19 768.79L483.35 771.29L483.35 773.8M490.87 756.26L492.54 757.1L493.38 757.93L494.21 759.6L494.21 761.27L493.38 762.94L490.87 764.62L487.53 766.28M483.35 772.13L484.19 771.29L485.86 771.29L490.03 772.96L492.54 772.96L494.21 772.13L495.05 771.29M485.86 771.29L490.03 773.8L493.38 773.8L494.21 772.96L495.05 771.29L495.05 769.62" fill="none" stroke="#000" stroke-width="1.6" stroke-linecap="round" stroke-linejoin="round"/>
<path d="M580.19 759.6L581.03 760.44L580.19 761.27L579.36 760.44L579.36 759.6L580.19 757.93L581.03 757.1L583.53 756.26L586.87 756.26L589.38 757.1L590.21 758.77L590.21 761.27L589.38 762.94L586.87 763.78L584.37 763.78M586.87 756.26L588.54 757.1L589.38 758.77L589.38 761.27L588.54 762.94L586.87 763.78M586.87 763.78L588.54 764.62L590.21 766.28L591.05 767.95L591.05 770.46L590.21 772.13L589.38 772.96L586.87 773.8L583.53 773.8L581.03 772.96L580.19 772.13L579.36 770.46L579.36 769.62L580.19 768.79L581.03 769.62L580.19 770.46M589.38 765.45L590.21 767.95L590.21 770.46L589.38 772.13L588.54 772.96L586.87 773.8" fill="none" stroke="#000" stroke-width="1.6" stroke-linecap="round" stroke-linejoin="round"/>
<path d="M682.87 757.93L682.87 773.8M683.71 756.26L683.71 773.8M683.71 756.26L674.52 768.79L687.88 768.79M680.37 773.8L686.21 773.8" fill="none" stroke="#000" stroke-width="1.6" stroke-linecap="round" stroke-linejoin="round"/>
<path d="M773.03 756.26L771.36 764.62M771.36 764.62L773.03 762.94L775.53 762.11L778.04 762.11L780.54 762.94L782.21 764.62L783.05 767.12L783.05 768.79L782.21 771.29L780.54 772.96L778.04 773.8L775.53 773.8L773.03 772.96L772.19 772.13L771.36 770.46L771.36 769.62L772.19 768.79L773.03 769.62L772.19 770.46M778.04 762.11L779.71 762.94L781.38 764.62L782.21 767.12L782.21 768.79L781.38 771.29L779.71 772.96L778.04 773.8M773.03 756.26L781.38 756.26M773.03 757.1L777.2 757.1L781.38 756.26" fill="none" stroke="#000" stroke-width="1.6" stroke-linecap="round" stroke-linejoin="round"/>
<path d="M219.41 792.84L227.97 803.9M220.19 792.84L228.75 803.9M228.75 792.84L219.41 803.9M217.86 792.84L222.52 792.84M225.63 792.84L230.3 792.84M217.86 803.9L222.52 803.9M225.63 803.9L230.3 803.9M234.19 801.06L234.19 811.01M234.66 801.06L234.66 811.01M240.26 801.06L240.26 811.01M240.73 801.06L240.73 811.01M232.79 801.06L236.06 801.06M238.86 801.06L242.13 801.06M234.66 805.8L240.26 805.8M232.79 811.01L236.06 811.01M238.86 811.01L242.13 811.01M245.4 801.06L245.4 811.01M245.86 801.06L245.86 811.01M244 801.06L247.26 801.06M244 811.01L247.26 811.01M250.53 811.01L250.06 810.54L250.53 810.06L251 810.54L251 811.48L250.53 812.43L250.06 812.91M254.27 801.06L257.53 811.01M254.73 801.06L257.53 809.59M260.8 801.06L257.53 811.01M253.33 801.06L256.13 801.06M258.93 801.06L261.73 801.06" fill="none" stroke="#000" stroke-width="1.6" stroke-linecap="round" stroke-linejoin="round"/>
<path d="M492.4 795.91L492.4 812.5M493.18 795.91L493.18 812.5M490.07 795.91L493.18 795.91M490.07 812.5L495.51 812.5M504.07 801.44L501.74 802.23L500.18 803.81L499.4 806.18L499.4 807.76L500.18 810.13L501.74 811.71L504.07 812.5L505.63 812.5L507.96 811.71L509.52 810.13L510.3 807.76L510.3 806.18L509.52 803.81L507.96 802.23L505.63 801.44L504.07 801.44M504.07 801.44L502.52 802.23L500.96 803.81L500.18 806.18L500.18 807.76L500.96 810.13L502.52 811.71L504.07 812.5M505.63 812.5L507.19 811.71L508.74 810.13L509.52 807.76L509.52 806.18L508.74 803.81L507.19 802.23L505.63 801.44M518.86 801.44L517.3 802.23L516.52 803.02L515.74 804.6L515.74 806.18L516.52 807.76L517.3 808.55L518.86 809.34L520.41 809.34L521.97 808.55L522.75 807.76L523.52 806.18L523.52 804.6L522.75 803.02L521.97 802.23L520.41 801.44L518.86 801.44M517.3 802.23L516.52 803.81L516.52 806.97L517.3 808.55M521.97 808.55L522.75 806.97L522.75 803.81L521.97 802.23M522.75 803.02L523.52 802.23L525.08 801.44L525.08 802.23L523.52 802.23M516.52 807.76L515.74 808.55L514.97 810.13L514.97 810.92L515.74 812.5L518.08 813.29L521.97 813.29L524.3 814.08L525.08 814.87M514.97 810.92L515.74 811.71L518.08 812.5L521.97 812.5L524.3 813.29L525.08 814.87L525.08 815.66L524.3 817.24L521.97 818.03L517.3 818.03L514.97 817.24L514.19 815.66L514.19 814.87L514.97 813.29L517.3 812.5M530.21 811.55L531.15 811.08L532.55 809.66L532.55 819.61M532.08 810.13L532.08 819.61M530.4 819.61L534.23 819.61M540.95 809.66L539.55 810.13L538.62 811.55L538.15 813.92L538.15 815.34L538.62 817.71L539.55 819.14L540.95 819.61L541.88 819.61L543.28 819.14L544.22 817.71L544.68 815.34L544.68 813.92L544.22 811.55L543.28 810.13L541.88 809.66L540.95 809.66M540.95 809.66L540.02 810.13L539.55 810.6L539.08 811.55L538.62 813.92L538.62 815.34L539.08 817.71L539.55 818.66L540.02 819.14L540.95 819.61M541.88 819.61L542.82 819.14L543.28 818.66L543.75 817.71L544.22 815.34L544.22 813.92L543.75 811.55L543.28 810.6L542.82 810.13L541.88 809.66M567.09 792.75L565.53 794.33L563.98 796.7L562.42 799.86L561.64 803.81L561.64 806.97L562.42 810.92L563.98 814.08L565.53 816.45L567.09 818.03M565.53 794.33L563.98 797.49L563.2 799.86L562.42 803.81L562.42 806.97L563.2 810.92L563.98 813.29L565.53 816.45M576.43 795.91L576.43 812.5M577.21 795.91L577.21 812.5M571.76 795.91L570.98 800.65L570.98 795.91L582.65 795.91L582.65 800.65L581.87 795.91M574.09 812.5L579.54 812.5M587.32 806.18L596.65 806.18L596.65 804.6L595.88 803.02L595.1 802.23L593.54 801.44L591.21 801.44L588.88 802.23L587.32 803.81L586.54 806.18L586.54 807.76L587.32 810.13L588.88 811.71L591.21 812.5L592.76 812.5L595.1 811.71L596.65 810.13M595.88 806.18L595.88 803.81L595.1 802.23M591.21 801.44L589.65 802.23L588.1 803.81L587.32 806.18L587.32 807.76L588.1 810.13L589.65 811.71L591.21 812.5M602.88 801.44L602.88 812.5M603.66 801.44L603.66 812.5M603.66 803.81L605.21 802.23L607.55 801.44L609.1 801.44L611.44 802.23L612.22 803.81L612.22 812.5M609.1 801.44L610.66 802.23L611.44 803.81L611.44 812.5M612.22 803.81L613.77 802.23L616.11 801.44L617.66 801.44L620 802.23L620.77 803.81L620.77 812.5M617.66 801.44L619.22 802.23L620 803.81L620 812.5M600.55 801.44L603.66 801.44M600.55 812.5L605.99 812.5M609.1 812.5L614.55 812.5M617.66 812.5L623.11 812.5M628.55 801.44L628.55 818.03M629.33 801.44L629.33 818.03M629.33 803.81L630.89 802.23L632.44 801.44L634 801.44L636.33 802.23L637.89 803.81L638.67 806.18L638.67 807.76L637.89 810.13L636.33 811.71L634 812.5L632.44 812.5L630.89 811.71L629.33 810.13M634 801.44L635.56 802.23L637.11 803.81L637.89 806.18L637.89 807.76L637.11 810.13L635.56 811.71L634 812.5M626.22 801.44L629.33 801.44M626.22 818.03L631.66 818.03M644.11 806.18L653.45 806.18L653.45 804.6L652.67 803.02L651.89 802.23L650.34 801.44L648 801.44L645.67 802.23L644.11 803.81L643.34 806.18L643.34 807.76L644.11 810.13L645.67 811.71L648 812.5L649.56 812.5L651.89 811.71L653.45 810.13M652.67 806.18L652.67 803.81L651.89 802.23M648 801.44L646.45 802.23L644.89 803.81L644.11 806.18L644.11 807.76L644.89 810.13L646.45 811.71L648 812.5M659.67 801.44L659.67 812.5M660.45 801.44L660.45 812.5M660.45 806.18L661.23 803.81L662.79 802.23L664.34 801.44L666.67 801.44L667.45 802.23L667.45 803.02L666.67 803.81L665.9 803.02L666.67 802.23M657.34 801.44L660.45 801.44M657.34 812.5L662.79 812.5M672.9 803.02L672.9 803.81L672.12 803.81L672.12 803.02L672.9 802.23L674.46 801.44L677.57 801.44L679.12 802.23L679.9 803.02L680.68 804.6L680.68 810.13L681.46 811.71L682.24 812.5M679.9 803.02L679.9 810.13L680.68 811.71L682.24 812.5L683.01 812.5M679.9 804.6L679.12 805.39L674.46 806.18L672.12 806.97L671.34 808.55L671.34 810.13L672.12 811.71L674.46 812.5L676.79 812.5L678.35 811.71L679.9 810.13M674.46 806.18L672.9 806.97L672.12 808.55L672.12 810.13L672.9 811.71L674.46 812.5M688.46 795.91L688.46 809.34L689.24 811.71L690.79 812.5L692.35 812.5L693.9 811.71L694.68 810.13M689.24 795.91L689.24 809.34L690.01 811.71L690.79 812.5M686.12 801.44L692.35 801.44M700.13 801.44L700.13 810.13L700.91 811.71L703.24 812.5L704.8 812.5L707.13 811.71L708.69 810.13M700.91 801.44L700.91 810.13L701.68 811.71L703.24 812.5M708.69 801.44L708.69 812.5M709.47 801.44L709.47 812.5M697.79 801.44L700.91 801.44M706.35 801.44L709.47 801.44M708.69 812.5L711.8 812.5M717.25 801.44L717.25 812.5M718.02 801.44L718.02 812.5M718.02 806.18L718.8 803.81L720.36 802.23L721.91 801.44L724.25 801.44L725.02 802.23L725.02 803.02L724.25 803.81L723.47 803.02L724.25 802.23M714.91 801.44L718.02 801.44M714.91 812.5L720.36 812.5M729.69 806.18L739.03 806.18L739.03 804.6L738.25 803.02L737.47 802.23L735.92 801.44L733.58 801.44L731.25 802.23L729.69 803.81L728.91 806.18L728.91 807.76L729.69 810.13L731.25 811.71L733.58 812.5L735.14 812.5L737.47 811.71L739.03 810.13M738.25 806.18L738.25 803.81L737.47 802.23M733.58 801.44L732.03 802.23L730.47 803.81L729.69 806.18L729.69 807.76L730.47 810.13L732.03 811.71L733.58 812.5M756.92 792.75L742.92 818.03M762.37 795.91L762.37 812.5M763.15 795.91L763.15 812.5M773.26 795.91L763.15 806.18M767.04 803.02L773.26 812.5M766.26 803.02L772.48 812.5M760.04 795.91L765.48 795.91M770.15 795.91L774.82 795.91M760.04 812.5L765.48 812.5M770.15 812.5L774.82 812.5M777.93 792.75L779.49 794.33L781.04 796.7L782.6 799.86L783.38 803.81L783.38 806.97L782.6 810.92L781.04 814.08L779.49 816.45L777.93 818.03M779.49 794.33L781.04 797.49L781.82 799.86L782.6 803.81L782.6 806.97L781.82 810.92L781.04 813.29L779.49 816.45" fill="none" stroke="#000" stroke-width="1.6" stroke-linecap="round" stroke-linejoin="round"/>
<path d="M7.15 514.93L23.8 514.93M7.15 514.16L23.8 514.16M7.15 517.27L7.15 514.16M23.8 517.27L23.8 511.82M12.7 503.26L13.49 505.6L15.08 507.15L17.46 507.93L19.04 507.93L21.42 507.15L23.01 505.6L23.8 503.26L23.8 501.71L23.01 499.37L21.42 497.82L19.04 497.04L17.46 497.04L15.08 497.82L13.49 499.37L12.7 501.71L12.7 503.26M12.7 503.26L13.49 504.82L15.08 506.38L17.46 507.15L19.04 507.15L21.42 506.38L23.01 504.82L23.8 503.26M23.8 501.71L23.01 500.15L21.42 498.6L19.04 497.82L17.46 497.82L15.08 498.6L13.49 500.15L12.7 501.71M12.7 488.48L13.49 490.04L14.28 490.82L15.87 491.59L17.46 491.59L19.04 490.82L19.83 490.04L20.63 488.48L20.63 486.93L19.83 485.37L19.04 484.59L17.46 483.81L15.87 483.81L14.28 484.59L13.49 485.37L12.7 486.93L12.7 488.48M13.49 490.04L15.08 490.82L18.25 490.82L19.83 490.04M19.83 485.37L18.25 484.59L15.08 484.59L13.49 485.37M14.28 484.59L13.49 483.81L12.7 482.26L13.49 482.26L13.49 483.81M19.04 490.82L19.83 491.59L21.42 492.37L22.21 492.37L23.8 491.59L24.59 489.26L24.59 485.37L25.39 483.04L26.18 482.26M22.21 492.37L23.01 491.59L23.8 489.26L23.8 485.37L24.59 483.04L26.18 482.26L26.97 482.26L28.56 483.04L29.35 485.37L29.35 490.04L28.56 492.37L26.97 493.15L26.18 493.15L24.59 492.37L23.8 490.04M22.85 477.12L22.37 476.19L20.95 474.79L30.94 474.79M21.42 475.26L30.94 475.26M30.94 476.94L30.94 473.11M20.95 466.39L21.42 467.79L22.85 468.72L25.23 469.19L26.65 469.19L29.03 468.72L30.46 467.79L30.94 466.39L30.94 465.45L30.46 464.05L29.03 463.12L26.65 462.65L25.23 462.65L22.85 463.12L21.42 464.05L20.95 465.45L20.95 466.39M20.95 466.39L21.42 467.32L21.9 467.79L22.85 468.25L25.23 468.72L26.65 468.72L29.03 468.25L29.99 467.79L30.46 467.32L30.94 466.39M30.94 465.45L30.46 464.52L29.99 464.05L29.03 463.59L26.65 463.12L25.23 463.12L22.85 463.59L21.9 464.05L21.42 464.52L20.95 465.45M7.15 444.91L23.8 444.91M7.15 444.14L22.21 434.8M8.73 444.14L23.8 434.8M7.15 434.8L23.8 434.8M7.15 447.25L7.15 444.14M7.15 437.13L7.15 432.47M23.8 447.25L23.8 442.58M3.97 422.35L5.56 423.91L7.94 425.46L11.11 427.02L15.08 427.8L18.25 427.8L22.21 427.02L25.39 425.46L27.76 423.91L29.35 422.35M5.56 423.91L8.73 425.46L11.11 426.24L15.08 427.02L18.25 427.02L22.21 426.24L24.59 425.46L27.76 423.91M12.7 416.91L23.8 408.35M12.7 416.13L23.8 407.57M12.7 407.57L23.8 416.91M12.7 418.46L12.7 413.79M12.7 410.68L12.7 406.01M23.8 418.46L23.8 413.79M23.8 410.68L23.8 406.01M20.95 402.12L30.94 402.12M20.95 401.66L30.94 401.66M20.95 396.06L30.94 396.06M20.95 395.59L30.94 395.59M20.95 403.53L20.95 400.26M20.95 397.46L20.95 394.19M25.7 401.66L25.7 396.06M30.94 403.53L30.94 400.26M30.94 397.46L30.94 394.19M20.95 390.92L30.94 390.92M20.95 390.45L30.94 390.45M20.95 392.32L20.95 389.05M30.94 392.32L30.94 389.05M30.94 385.79L30.46 386.25L29.99 385.79L30.46 385.32L31.41 385.32L32.36 385.79L32.84 386.25M20.95 382.05L30.94 378.78M20.95 381.59L29.51 378.78M20.95 375.52L30.94 378.78M20.95 382.99L20.95 380.19M20.95 377.38L20.95 374.58M3.98 371.78L5.56 370.23L7.94 368.67L11.11 367.11L15.08 366.34L18.25 366.34L22.21 367.11L25.39 368.67L27.77 370.23L29.35 371.78M5.56 370.23L8.73 368.67L11.11 367.89L15.08 367.11L18.25 367.11L22.21 367.89L24.59 368.67L27.77 370.23M3.98 335.22L29.35 349.22M7.15 317.32L23.8 317.32M7.15 316.54L22.21 307.21M8.73 316.54L23.8 307.21M7.15 307.21L23.8 307.21M7.15 319.66L7.15 316.54M7.15 309.54L7.15 304.87M23.8 319.66L23.8 314.99M25.7 296.32L26.18 296.78L26.65 296.32L26.18 295.85L25.7 295.85L24.75 296.78L24.28 297.72L24.28 299.12L24.75 300.52L25.7 301.45L27.13 301.92L28.08 301.92L29.51 301.45L30.46 300.52L30.94 299.12L30.94 298.18L30.46 296.78L29.51 295.85M24.28 299.12L24.75 300.05L25.7 300.98L27.13 301.45L28.08 301.45L29.51 300.98L30.46 300.05L30.94 299.12M27.13 292.58L27.13 286.98L26.18 286.98L25.23 287.45L24.75 287.91L24.28 288.85L24.28 290.25L24.75 291.65L25.7 292.58L27.13 293.05L28.08 293.05L29.51 292.58L30.46 291.65L30.94 290.25L30.94 289.31L30.46 287.91L29.51 286.98M27.13 287.45L25.7 287.45L24.75 287.91M24.28 290.25L24.75 291.18L25.7 292.12L27.13 292.58L28.08 292.58L29.51 292.12L30.46 291.18L30.94 290.25M20.95 283.25L30.94 283.25M20.95 282.78L30.94 282.78M20.95 284.65L20.95 282.78M30.94 284.65L30.94 281.38M20.95 278.11L30.94 278.11M20.95 277.64L30.94 277.64M20.95 279.51L20.95 277.64M30.94 279.51L30.94 276.24M25.23 269.24L24.28 268.78L26.18 268.78L25.23 269.24L24.75 269.71L24.28 270.64L24.28 272.51L24.75 273.44L25.23 273.91L26.18 273.91L26.65 273.44L27.13 272.51L28.08 270.18L28.56 269.24L29.03 268.78M25.7 273.91L26.18 273.44L26.65 272.51L27.61 270.18L28.08 269.24L28.56 268.78L29.99 268.78L30.46 269.24L30.94 270.18L30.94 272.04L30.46 272.98L29.99 273.44L29.03 273.91L30.94 273.91L29.99 273.44" fill="none" stroke="#000" stroke-width="1.6" stroke-linecap="round" stroke-linejoin="round"/>
<path d="M413.35 527.18L430 527.18M413.35 526.4L430 526.4M413.35 529.51L413.35 526.4M430 529.51L430 524.06M418.9 515.49L419.69 517.83L421.28 519.39L423.66 520.17L425.24 520.17L427.62 519.39L429.21 517.83L430 515.49L430 513.93L429.21 511.6L427.62 510.04L425.24 509.26L423.66 509.26L421.28 510.04L419.69 511.6L418.9 513.93L418.9 515.49M418.9 515.49L419.69 517.05L421.28 518.61L423.66 519.39L425.24 519.39L427.62 518.61L429.21 517.05L430 515.49M430 513.93L429.21 512.38L427.62 510.82L425.24 510.04L423.66 510.04L421.28 510.82L419.69 512.38L418.9 513.93M418.9 500.69L419.69 502.25L420.48 503.03L422.07 503.81L423.66 503.81L425.24 503.03L426.04 502.25L426.83 500.69L426.83 499.13L426.04 497.57L425.24 496.8L423.66 496.02L422.07 496.02L420.48 496.8L419.69 497.57L418.9 499.13L418.9 500.69M419.69 502.25L421.28 503.03L424.45 503.03L426.04 502.25M426.04 497.57L424.45 496.8L421.28 496.8L419.69 497.57M420.48 496.8L419.69 496.02L418.9 494.46L419.69 494.46L419.69 496.02M425.24 503.03L426.04 503.81L427.62 504.59L428.41 504.59L430 503.81L430.79 501.47L430.79 497.57L431.59 495.24L432.38 494.46M428.41 504.59L429.21 503.81L430 501.47L430 497.57L430.79 495.24L432.38 494.46L433.17 494.46L434.76 495.24L435.55 497.57L435.55 502.25L434.76 504.59L433.17 505.36L432.38 505.36L430.79 504.59L430 502.25M429.05 489.32L428.57 488.38L427.15 486.98L437.14 486.98M427.62 487.45L437.14 487.45M437.14 489.13L437.14 485.3M427.15 478.57L427.62 479.97L429.05 480.9L431.43 481.37L432.85 481.37L435.23 480.9L436.66 479.97L437.14 478.57L437.14 477.63L436.66 476.23L435.23 475.29L432.85 474.83L431.43 474.83L429.05 475.29L427.62 476.23L427.15 477.63L427.15 478.57M427.15 478.57L427.62 479.5L428.1 479.97L429.05 480.44L431.43 480.9L432.85 480.9L435.23 480.44L436.19 479.97L436.66 479.5L437.14 478.57M437.14 477.63L436.66 476.7L436.19 476.23L435.23 475.76L432.85 475.29L431.43 475.29L429.05 475.76L428.1 476.23L427.62 476.7L427.15 477.63M413.35 457.07L430 457.07M413.35 456.29L428.41 446.94M414.93 456.29L430 446.94M413.35 446.94L430 446.94M413.35 459.4L413.35 456.29M413.35 449.28L413.35 444.6M430 459.4L430 454.73M410.18 434.48L411.76 436.03L414.14 437.59L417.31 439.15L421.28 439.93L424.45 439.93L428.41 439.15L431.59 437.59L433.96 436.03L435.55 434.48M411.76 436.03L414.93 437.59L417.31 438.37L421.28 439.15L424.45 439.15L428.41 438.37L430.79 437.59L433.96 436.03M413.35 428.24L430 428.24M413.35 427.46L430 427.46M413.35 430.58L413.35 427.46M430 430.58L430 425.13M418.9 416.56L419.69 418.9L421.28 420.45L423.66 421.23L425.24 421.23L427.62 420.45L429.21 418.9L430 416.56L430 415L429.21 412.66L427.62 411.11L425.24 410.33L423.66 410.33L421.28 411.11L419.69 412.66L418.9 415L418.9 416.56M418.9 416.56L419.69 418.12L421.28 419.67L423.66 420.45L425.24 420.45L427.62 419.67L429.21 418.12L430 416.56M430 415L429.21 413.44L427.62 411.88L425.24 411.11L423.66 411.11L421.28 411.88L419.69 413.44L418.9 415M418.9 401.76L419.69 403.32L420.48 404.09L422.07 404.87L423.66 404.87L425.24 404.09L426.04 403.32L426.83 401.76L426.83 400.2L426.04 398.64L425.24 397.86L423.66 397.08L422.07 397.08L420.48 397.86L419.69 398.64L418.9 400.2L418.9 401.76M419.69 403.32L421.28 404.09L424.45 404.09L426.04 403.32M426.04 398.64L424.45 397.86L421.28 397.86L419.69 398.64M420.48 397.86L419.69 397.08L418.9 395.53L419.69 395.53L419.69 397.08M425.24 404.09L426.04 404.87L427.62 405.65L428.41 405.65L430 404.87L430.79 402.54L430.79 398.64L431.59 396.3L432.38 395.53M428.41 405.65L429.21 404.87L430 402.54L430 398.64L430.79 396.3L432.38 395.53L433.17 395.53L434.76 396.3L435.55 398.64L435.55 403.32L434.76 405.65L433.17 406.43L432.38 406.43L430.79 405.65L430 403.32M429.05 390.38L428.57 389.45L427.15 388.05L437.14 388.05M427.62 388.51L437.14 388.51M437.14 390.2L437.14 386.36M427.15 379.63L427.62 381.04L429.05 381.97L431.43 382.44L432.85 382.44L435.23 381.97L436.66 381.04L437.14 379.63L437.14 378.7L436.66 377.3L435.23 376.36L432.85 375.89L431.43 375.89L429.05 376.36L427.62 377.3L427.15 378.7L427.15 379.63M427.15 379.63L427.62 380.57L428.1 381.04L429.05 381.5L431.43 381.97L432.85 381.97L435.23 381.5L436.19 381.04L436.66 380.57L437.14 379.63M437.14 378.7L436.66 377.76L436.19 377.3L435.23 376.83L432.85 376.36L431.43 376.36L429.05 376.83L428.1 377.3L427.62 377.76L427.15 378.7M410.18 365.92L411.76 367.48L414.14 369.04L417.31 370.6L421.28 371.38L424.45 371.38L428.41 370.6L431.59 369.04L433.96 367.48L435.55 365.92M411.76 367.48L414.93 369.04L417.31 369.82L421.28 370.6L424.45 370.6L428.41 369.82L430.79 369.04L433.96 367.48M413.35 356.58L430 356.58M413.35 355.8L430 355.8M413.35 361.25L418.11 362.03L413.35 362.03L413.35 350.34L418.11 350.34L413.35 351.12M430 358.91L430 353.46M410.18 346.45L411.76 344.89L414.14 343.33L417.31 341.77L421.28 341L424.45 341L428.41 341.77L431.59 343.33L433.96 344.89L435.55 346.45M411.76 344.89L414.93 343.33L417.31 342.55L421.28 341.77L424.45 341.77L428.41 342.55L430.79 343.33L433.96 344.89M410.18 335.54L411.76 333.98L414.14 332.43L417.31 330.87L421.28 330.09L424.45 330.09L428.41 330.87L431.59 332.43L433.96 333.98L435.55 335.54M411.76 333.98L414.93 332.43L417.31 331.65L421.28 330.87L424.45 330.87L428.41 331.65L430.79 332.43L433.96 333.98M410.18 311.39L435.55 325.42M413.35 305.94L430 305.94M413.35 305.16L428.41 295.81M414.93 305.16L430 295.81M413.35 295.81L430 295.81M413.35 308.28L413.35 305.16M413.35 298.15L413.35 293.48M430 308.28L430 303.6M431.9 284.91L432.38 285.37L432.85 284.91L432.38 284.44L431.9 284.44L430.95 285.37L430.48 286.31L430.48 287.71L430.95 289.11L431.9 290.05L433.33 290.52L434.28 290.52L435.71 290.05L436.66 289.11L437.14 287.71L437.14 286.78L436.66 285.37L435.71 284.44M430.48 287.71L430.95 288.65L431.9 289.58L433.33 290.05L434.28 290.05L435.71 289.58L436.66 288.65L437.14 287.71M433.33 281.17L433.33 275.56L432.38 275.56L431.43 276.03L430.95 276.49L430.48 277.43L430.48 278.83L430.95 280.23L431.9 281.17L433.33 281.64L434.28 281.64L435.71 281.17L436.66 280.23L437.14 278.83L437.14 277.9L436.66 276.49L435.71 275.56M433.33 276.03L431.9 276.03L430.95 276.49M430.48 278.83L430.95 279.77L431.9 280.7L433.33 281.17L434.28 281.17L435.71 280.7L436.66 279.77L437.14 278.83M427.15 271.82L437.14 271.82M427.15 271.35L437.14 271.35M427.15 273.22L427.15 271.35M437.14 273.22L437.14 269.95M427.15 266.68L437.14 266.68M427.15 266.21L437.14 266.21M427.15 268.08L427.15 266.21M437.14 268.08L437.14 264.81M431.43 257.8L430.48 257.33L432.38 257.33L431.43 257.8L430.95 258.27L430.48 259.2L430.48 261.07L430.95 262L431.43 262.47L432.38 262.47L432.85 262L433.33 261.07L434.28 258.73L434.76 257.8L435.23 257.33M431.9 262.47L432.38 262L432.85 261.07L433.81 258.73L434.28 257.8L434.76 257.33L436.19 257.33L436.66 257.8L437.14 258.73L437.14 260.6L436.66 261.54L436.19 262L435.23 262.47L437.14 262.47L436.19 262" fill="none" stroke="#000" stroke-width="1.6" stroke-linecap="round" stroke-linejoin="round"/>
</svg>
</body></html>
